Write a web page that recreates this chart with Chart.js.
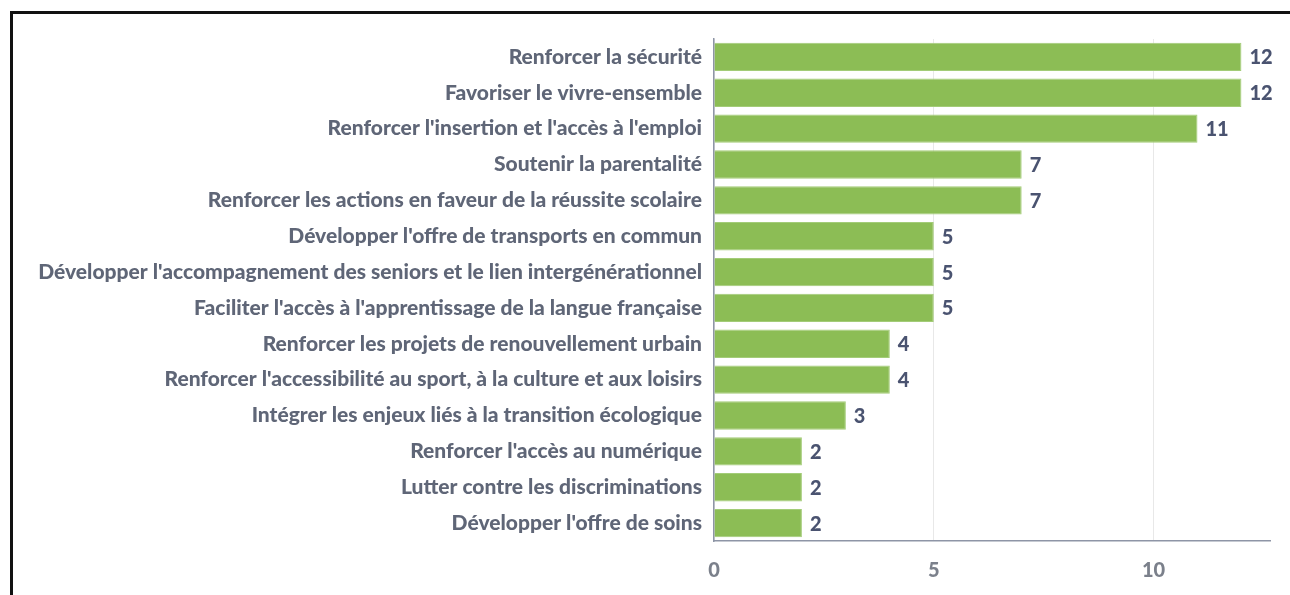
<!DOCTYPE html>
<html><head><meta charset="utf-8">
<script src="https://cdn.jsdelivr.net/npm/chart.js@4"></script>
<style>
html,body{margin:0;padding:0;background:#fff;width:1290px;height:595px;overflow:hidden;}
#frame{position:absolute;left:10px;top:11px;width:1300px;height:620px;border-left:3px solid #111;border-top:3px solid #111;}
#wrap{position:absolute;left:0;top:0;width:1290px;height:595px;}
</style></head>
<body>
<div id="frame"></div>
<div id="wrap"><canvas id="c" width="1290" height="595"></canvas></div>
<script>
const categories = [
  "Renforcer la sécurité",
  "Favoriser le vivre-ensemble",
  "Renforcer l'insertion et l'accès à l'emploi",
  "Soutenir la parentalité",
  "Renforcer les actions en faveur de la réussite scolaire",
  "Développer l'offre de transports en commun",
  "Développer l'accompagnement des seniors et le lien intergénérationnel",
  "Faciliter l'accès à l'apprentissage de la langue française",
  "Renforcer les projets de renouvellement urbain",
  "Renforcer l'accessibilité au sport, à la culture et aux loisirs",
  "Intégrer les enjeux liés à la transition écologique",
  "Renforcer l'accès au numérique",
  "Lutter contre les discriminations",
  "Développer l'offre de soins"
];
const values = [12, 12, 11, 7, 7, 5, 5, 5, 4, 4, 3, 2, 2, 2];
const xTicks = [0, 5, 10];

const valueLabels = {
  id: 'valueLabels',
  afterDatasetsDraw(chart) {
    const ctx = chart.ctx;
    const meta = chart.getDatasetMeta(0);
    ctx.save();
    ctx.font = '900 20px Lato';
    ctx.fillStyle = '#4a5370';
    ctx.textAlign = 'left';
    ctx.textBaseline = 'middle';
    meta.data.forEach((bar, i) => {
      ctx.fillText(String(chart.data.datasets[0].data[i]), bar.x + 8, bar.y + 1);
    });
    ctx.restore();
  }
};

new Chart(document.getElementById('c'), {
  type: 'bar',
  data: {
    labels: categories,
    datasets: [{
      data: values,
      backgroundColor: '#8cbd55',
      borderColor: '#a3cc78',
      borderWidth: 1,
      barPercentage: 0.79,
      categoryPercentage: 1.0
    }]
  },
  options: {
    indexAxis: 'y',
    responsive: false,
    animation: false,
    layout: { padding: { top: 39, right: 20, left: 0, bottom: 0 } },
    plugins: { legend: { display: false }, tooltip: { enabled: false } },
    scales: {
      x: {
        min: 0, max: 12.65,
        afterBuildTicks(scale) { scale.ticks = xTicks.map(v => ({ value: v })); },
        afterFit(scale) { scale.height = 54; },
        grid: { color: '#e8e8e8', drawTicks: false, lineWidth: 1 },
        border: { color: '#8e95a6', width: 1.5 },
        ticks: { color: '#7b808b', font: { family: 'Lato', size: 20, weight: '900' }, padding: 18 }
      },
      y: {
        afterFit(scale) { scale.width = 714; },
        grid: { display: false, drawTicks: false },
        border: { color: '#8e95a6', width: 1.5 },
        ticks: { color: '#5f6677', font: { family: 'Lato', size: 21, weight: '900' }, padding: 12, autoSkip: false }
      }
    }
  },
  plugins: [valueLabels]
});
</script>
</body></html>
